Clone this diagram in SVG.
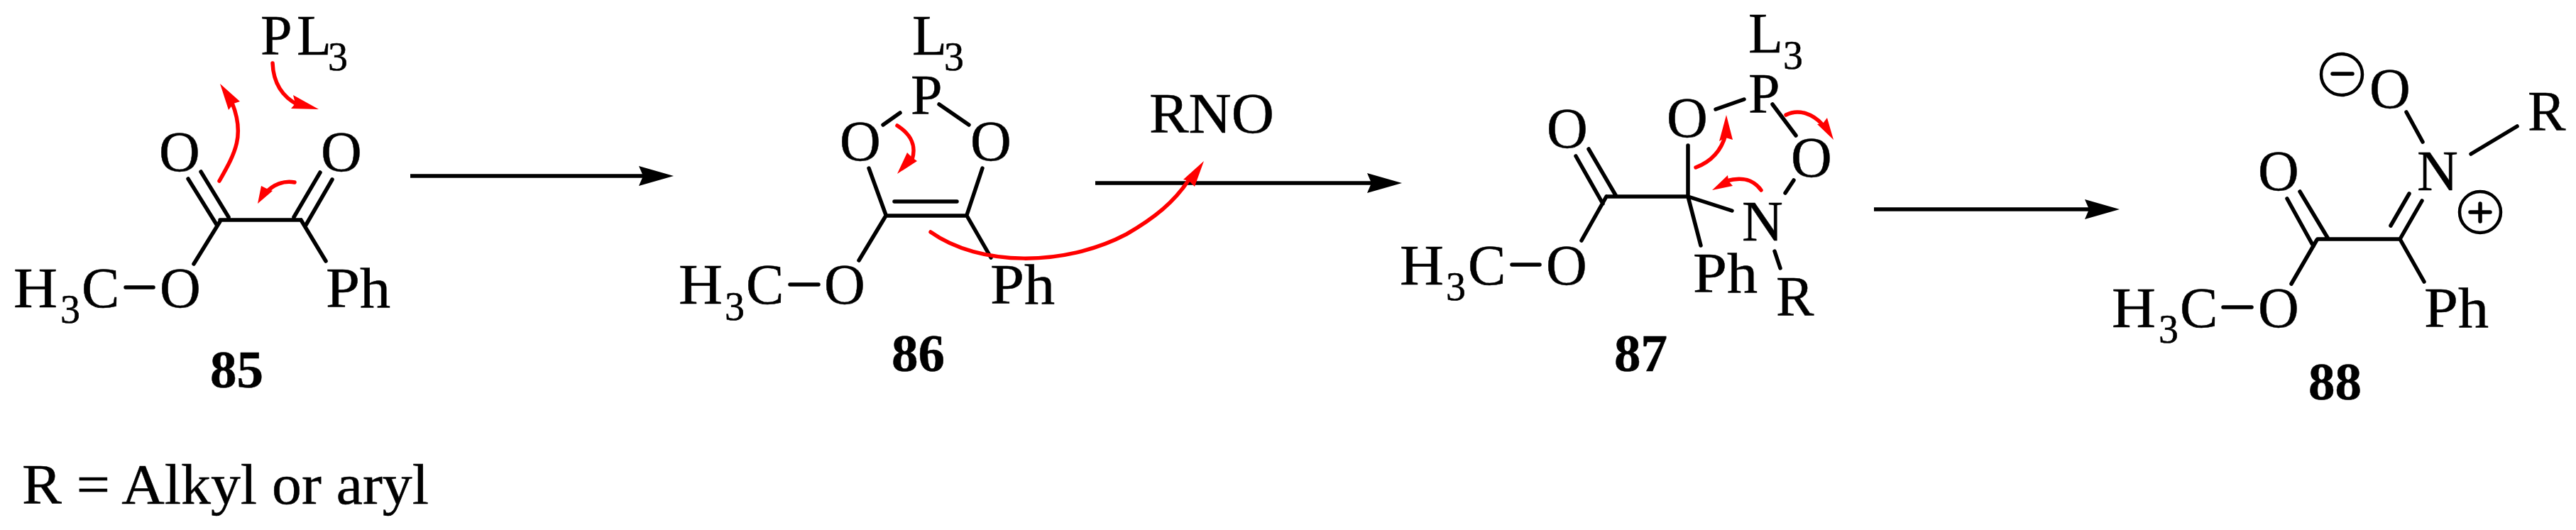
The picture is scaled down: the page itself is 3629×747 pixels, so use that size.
<svg xmlns="http://www.w3.org/2000/svg" width="3629" height="747" viewBox="0 0 3629 747">
<style>
text{font-family:"Liberation Serif","Times New Roman",serif;font-size:80px;fill:#000;stroke:#000;stroke-width:.5}
.sub{font-size:56px}
.num{font-weight:bold;font-size:75px}
.b{stroke:#000;stroke-width:5.5;stroke-linecap:round;fill:none}
.rxn{stroke:#000;stroke-width:5.5;fill:none}
.c{stroke:#000;stroke-width:4.5;fill:none}
.rc{stroke:#f00;stroke-width:5.5;stroke-linecap:round;fill:none}
.rh{fill:#f00}
</style>
<defs>
<marker id="head" markerUnits="userSpaceOnUse" markerWidth="50" markerHeight="28" viewBox="0 0 50 28" refX="6" refY="14" orient="auto">
<path d="M0 0L49 14L0 28L6 14Z" fill="#000"/>
</marker>
</defs>
<rect width="3629" height="747" fill="#fff"/>
<g id="m85">
<text x="367" y="77">P<tspan x="418">L</tspan><tspan class="sub" x="462" y="99">3</tspan></text>
<text x="224" y="241">O</text>
<text x="452" y="241">O</text>
<text x="19" y="433" textLength="62" lengthAdjust="spacingAndGlyphs">H</text>
<text class="sub" x="85" y="455">3</text>
<text x="115" y="433">C</text>
<text x="225" y="433">O</text>
<text x="459" y="433" textLength="91" lengthAdjust="spacingAndGlyphs">Ph</text>
<text class="num" x="296" y="546">85</text>
<path class="b" d="M265 252L306 318M283 242L322 306M310 310H424M451 243L414 306M468 253L431 317M424 310L459 368M310 312L273 372M177 405H216"/>
</g>
<g id="m86">
<text x="1285" y="77">L<tspan class="sub" x="1330" y="99">3</tspan></text>
<text x="1283" y="161">P</text>
<text x="1183" y="226">O</text>
<text x="1367" y="226">O</text>
<text x="956" y="428" textLength="62" lengthAdjust="spacingAndGlyphs">H</text>
<text class="sub" x="1021" y="451">3</text>
<text x="1051" y="428">C</text>
<text x="1161" y="428">O</text>
<text x="1395" y="428" textLength="91" lengthAdjust="spacingAndGlyphs">Ph</text>
<text class="num" x="1256" y="523">86</text>
<path class="b" d="M1244 176L1268 159M1323 147L1365 176M1224 237L1248 303M1384 237L1362 303M1260 284H1348M1248 304H1362M1248 304L1210 367M1362 304L1396 363M1113 401H1153"/>
</g>
<g id="m87">
<text x="2463" y="74">L<tspan class="sub" x="2512" y="97">3</tspan></text>
<text x="2463" y="159">P</text>
<text x="2348" y="193">O</text>
<text x="2179" y="208">O</text>
<text x="2523" y="249">O</text>
<text x="2454" y="339">N</text>
<text x="1972" y="401" textLength="62" lengthAdjust="spacingAndGlyphs">H</text>
<text class="sub" x="2037" y="423">3</text>
<text x="2068" y="401">C</text>
<text x="2178" y="401">O</text>
<text x="2385" y="412" textLength="91" lengthAdjust="spacingAndGlyphs">Ph</text>
<text x="2502" y="445">R</text>
<text class="num" x="2274" y="523">87</text>
<path class="b" d="M2417 154L2457 140M2497 147L2530 191M2378 205V277M2264 277H2378M2220 220L2258 287M2238 210L2276 275M2263 277L2228 339M2378 277L2440 297M2378 277L2396 346M2527 254L2515 272M2500 354L2508 378M2130 373H2169"/>
</g>
<g id="m88">
<ellipse class="c" cx="3299" cy="105" rx="29" ry="29"/>
<path class="b" d="M3286 104H3314M3480 299H3508M3494 287V312"/>
<ellipse class="c" cx="3494" cy="299" rx="29" ry="29"/>
<text x="3338" y="152">O</text>
<text x="3561" y="184">R</text>
<text x="3405" y="268">N</text>
<text x="3181" y="268">O</text>
<text x="2975" y="461" textLength="62" lengthAdjust="spacingAndGlyphs">H</text>
<text class="sub" x="3041" y="483">3</text>
<text x="3071" y="461">C</text>
<text x="3181" y="461">O</text>
<text x="3415" y="461" textLength="91" lengthAdjust="spacingAndGlyphs">Ph</text>
<text class="num" x="3252" y="563">88</text>
<path class="b" d="M3390 158L3413 200M3481 217L3546 178M3222 280L3259 347M3240 270L3279 335M3265 337H3381M3381 337L3412 283M3368 318L3394 273M3264 338L3228 400M3381 337L3415 397M3132 433H3172"/>
</g>
<g id="note">
<text x="31" y="710" textLength="573" lengthAdjust="spacingAndGlyphs">R = Alkyl or aryl</text>
</g>
<g id="reagent">
<text x="1619" y="187" textLength="176" lengthAdjust="spacingAndGlyphs">RNO</text>
</g>
<g id="connectors">
<path class="rxn" d="M578 248H906" marker-end="url(#head)"/>
<path class="rxn" d="M1543 258H1932" marker-end="url(#head)"/>
<path class="rxn" d="M2640 295H2943" marker-end="url(#head)"/>
<path class="rc" d="M309 255C332 215 345 190 327 145"/>
<polygon class="rh" points="310,118 338,143 329,146 322,155"/>
<path class="rc" d="M384 89C385 115 395 135 420 148"/>
<polygon class="rh" points="449,154 413,134 416,146 410,153"/>
<path class="rc" d="M415 257C400 254 385 260 374 272"/>
<polygon class="rh" points="363,287 368,262 376,266 384,269"/>
<path class="rc" d="M1264 177C1284 190 1291 205 1285 225"/>
<polygon class="rh" points="1264,245 1278,215 1285,222 1292,227"/>
<path class="rc" d="M1311 327C1380 376 1500 376 1587 330C1625 308 1655 285 1677 250"/>
<polygon class="rh" points="1696,227 1667,253 1675,255 1683,263"/>
<path class="rc" d="M2389 236C2410 228 2425 212 2431 190"/>
<polygon class="rh" points="2432,162 2422,199 2431,194 2441,197"/>
<path class="rc" d="M2516 162C2535 152 2555 162 2567 175"/>
<polygon class="rh" points="2583,197 2560,175 2568,174 2574,166"/>
<path class="rc" d="M2481 268C2468 250 2450 250 2432 255"/>
<polygon class="rh" points="2412,268 2434,247 2435,255 2441,262"/>
</g>
</svg>
